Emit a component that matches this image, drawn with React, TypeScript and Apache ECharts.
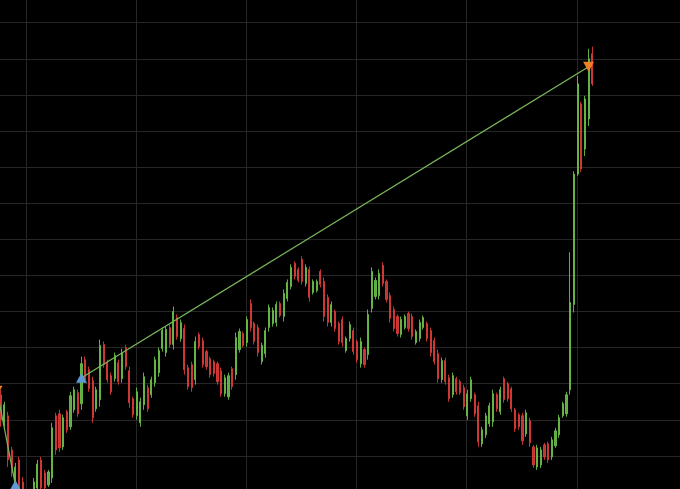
import React, { useEffect, useRef } from "react";
import * as echarts from "echarts";

// OHLC candles, each [open, close, low, high], first candle is just off the left edge
const candles: number[][] = [
  [218, 203, 198, 222],
  [205, 180, 173, 210], [177, 195, 173, 198], [184, 140, 133, 188], [150, 127, 123, 153], [110, 133, 104, 137],
  [140, 106, 100, 143], [118, 102, 96, 123], [104, 92, 88, 108], [93, 103, 89, 107], [102, 118, 99, 122],
  [112, 136, 106, 140], [140, 112, 108, 143], [127, 112, 106, 130], [115, 128, 113, 130], [122, 172, 117, 177],
  [184, 150, 145, 187], [186, 152, 148, 190], [153, 182, 150, 185], [188, 170, 167, 190], [173, 204, 170, 208],
  [190, 210, 187, 213], [207, 186, 183, 210], [196, 236, 190, 243], [240, 220, 217, 243], [230, 211, 208, 233],
  [219, 182, 177, 223], [191, 210, 188, 213], [200, 254, 193, 260], [255, 235, 232, 258], [237, 220, 217, 240],
  [224, 208, 205, 227], [221, 244, 218, 247], [237, 218, 215, 240], [221, 247, 217, 251], [252, 233, 230, 255],
  [229, 197, 192, 233], [201, 185, 182, 203], [184, 208, 180, 212], [177, 198, 173, 202], [195, 223, 190, 227],
  [212, 191, 188, 215], [205, 220, 202, 223], [217, 240, 213, 243], [227, 249, 223, 252], [251, 269, 248, 272],
  [247, 270, 243, 273], [272, 255, 252, 275], [255, 288, 250, 293], [282, 263, 260, 285], [261, 277, 258, 280],
  [271, 230, 225, 275], [232, 213, 210, 235], [235, 212, 208, 238], [220, 258, 215, 263], [265, 253, 250, 267],
  [259, 235, 232, 262], [248, 233, 230, 250], [241, 225, 222, 243], [238, 226, 223, 240], [236, 218, 215, 238],
  [229, 206, 203, 232], [206, 222, 203, 225], [203, 224, 200, 227], [231, 213, 210, 233], [225, 262, 220, 267],
  [250, 268, 247, 271], [266, 254, 252, 268], [257, 280, 253, 283], [296, 272, 268, 300], [276, 258, 255, 278],
  [272, 247, 243, 275], [238, 254, 235, 257], [246, 269, 242, 272], [272, 292, 268, 295], [276, 289, 273, 292],
  [277, 295, 273, 298], [296, 284, 282, 298], [283, 306, 278, 310], [301, 317, 298, 320], [313, 332, 310, 335],
  [336, 323, 320, 338], [330, 319, 317, 332], [340, 318, 315, 343], [316, 332, 313, 335], [330, 302, 298, 333],
  [307, 318, 305, 320], [309, 318, 307, 320], [328, 315, 312, 330], [318, 283, 278, 322], [302, 277, 273, 305],
  [277, 295, 273, 298], [288, 271, 268, 290], [276, 258, 255, 278], [280, 257, 253, 283], [249, 261, 247, 263],
  [261, 275, 258, 278], [269, 248, 245, 272], [258, 240, 237, 260], [236, 258, 232, 262], [250, 235, 232, 252],
  [245, 285, 240, 290], [291, 328, 287, 332], [303, 319, 300, 322], [304, 326, 300, 330], [334, 316, 313, 337],
  [318, 300, 297, 320], [304, 281, 277, 307], [290, 271, 268, 293], [283, 266, 263, 285], [265, 280, 262, 283],
  [272, 283, 270, 285], [286, 271, 268, 288], [283, 263, 260, 286], [257, 268, 255, 270], [261, 277, 258, 280],
  [272, 282, 270, 284], [276, 261, 258, 278], [269, 247, 243, 272], [259, 238, 235, 262], [246, 221, 217, 250],
  [220, 239, 217, 242], [239, 218, 215, 242], [222, 201, 198, 225], [205, 224, 202, 227], [221, 208, 205, 223],
  [218, 207, 205, 220], [212, 193, 190, 215], [184, 206, 180, 210], [201, 220, 198, 223], [205, 186, 183, 207],
  [194, 158, 153, 198], [156, 170, 153, 173], [165, 184, 162, 187], [176, 194, 173, 197], [178, 206, 173, 210],
  [205, 191, 188, 207], [188, 210, 185, 213], [221, 200, 197, 223], [216, 201, 198, 218], [211, 191, 188, 213],
  [190, 171, 168, 192], [185, 173, 170, 187], [184, 159, 155, 187], [166, 187, 163, 190], [179, 157, 153, 182],
  [153, 135, 132, 155], [133, 152, 130, 155], [135, 150, 132, 153], [155, 143, 140, 157], [156, 140, 137, 158],
  [143, 160, 140, 163], [154, 169, 152, 172], [165, 182, 162, 185], [184, 196, 182, 198], [186, 205, 183, 208],
  [210, 297, 205, 347], [295, 425, 287, 428], [425, 515, 423, 523], [495, 430, 427, 497], [450, 500, 443, 503],
  [480, 540, 473, 550], [545, 515, 513, 552],
];

// Trades: [candle index, price]
const trade1: number[][] = [[0, 209], [5, 115]];
const trade2: number[][] = [[23, 222], [161, 532]];
const buyPoints: number[][] = [[5, 115], [23, 222]];
const sellPoints: number[][] = [[0, 209], [161, 532]];

const categories: string[] = candles.map((_, i) => String(i));

const GREEN = "#6cc24a";
const RED = "#dd3b38";
const GRID = "#262626";

export default function App() {
  const ref = useRef<HTMLDivElement>(null);
  useEffect(() => {
    if (!ref.current) return;
    const chart = echarts.init(ref.current, undefined, { renderer: "svg" });
    chart.setOption({
      animation: false,
      backgroundColor: "#000000",
      grid: [
        { left: -4.81, right: 85.9, top: -13.4, bottom: -3, outerBoundsMode: "none", containLabel: false },
        { left: -83.8, right: -6.9, top: -13.4, bottom: -3, outerBoundsMode: "none", containLabel: false },
      ],
      xAxis: [
        {
          type: "category",
          gridIndex: 0,
          data: categories,
          boundaryGap: true,
          show: false,
        },
        {
          type: "value",
          gridIndex: 1,
          min: 0,
          max: 7,
          interval: 1,
          axisLine: { show: false },
          axisTick: { show: false },
          axisLabel: { show: false },
          splitLine: { show: true, lineStyle: { color: GRID, width: 1 } },
        },
      ],
      yAxis: [
        {
          type: "value",
          gridIndex: 0,
          min: 108,
          max: 612,
          interval: 36,
          show: false,
          splitLine: { show: false },
        },
        {
          type: "value",
          gridIndex: 1,
          min: 108,
          max: 612,
          interval: 36,
          axisLine: { show: false },
          axisTick: { show: false },
          axisLabel: { show: false },
          splitLine: { show: true, lineStyle: { color: GRID, width: 1 } },
        },
      ],
      series: [
        {
          type: "scatter",
          xAxisIndex: 1,
          yAxisIndex: 1,
          data: [],
          silent: true,
        },
        {
          type: "candlestick",
          xAxisIndex: 0,
          yAxisIndex: 0,
          data: candles,
          barWidth: 1.6,
          itemStyle: {
            color: GREEN,
            color0: RED,
            borderColor: GREEN,
            borderColor0: RED,
            borderWidth: 1,
            opacity: 0.88,
          },
        },
        {
          type: "line",
          xAxisIndex: 0,
          yAxisIndex: 0,
          data: trade1,
          symbol: "none",
          lineStyle: { color: "#7ab85a", width: 1.2 },
          z: 3,
        },
        {
          type: "line",
          xAxisIndex: 0,
          yAxisIndex: 0,
          data: trade2,
          symbol: "none",
          lineStyle: { color: "#7ab85a", width: 1.2 },
          z: 3,
        },
        {
          type: "scatter",
          xAxisIndex: 0,
          yAxisIndex: 0,
          data: buyPoints,
          symbol: "triangle",
          symbolSize: [11, 10],
          itemStyle: { color: "#5b9bd5", opacity: 1 },
          z: 4,
        },
        {
          type: "scatter",
          xAxisIndex: 0,
          yAxisIndex: 0,
          data: sellPoints,
          symbol: "triangle",
          symbolRotate: 180,
          symbolSize: [11, 10],
          itemStyle: { color: "#f07f2a", opacity: 1 },
          z: 4,
        },
      ],
    });
    return () => chart.dispose();
  }, []);
  return (
    <div
      ref={ref}
      style={{
        position: "fixed",
        left: 0,
        top: 0,
        width: 680,
        height: 489,
        background: "#000000",
      }}
    />
  );
}
